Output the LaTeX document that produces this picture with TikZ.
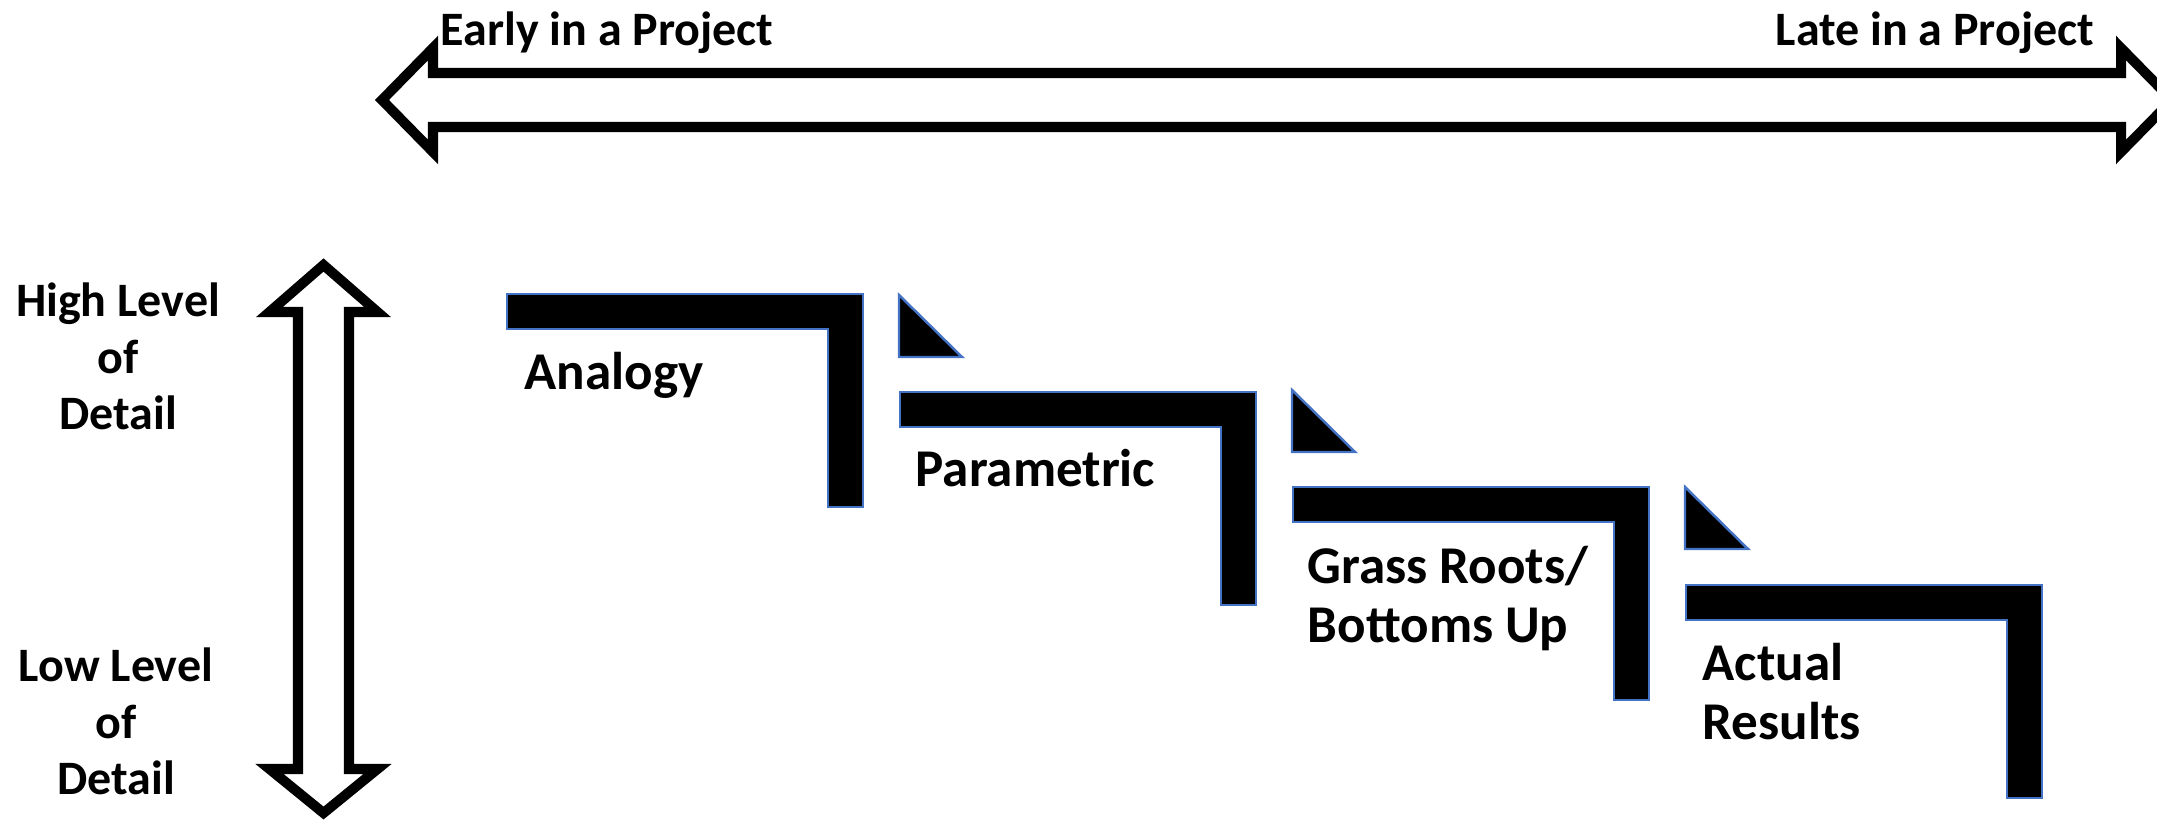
\documentclass[tikz,border=0pt]{standalone}
\usepackage{fontspec}
\setmainfont{Carlito}
\definecolor{stepedge}{HTML}{4472C4}
\begin{document}
\begin{tikzpicture}[x=0.01cm,y=-0.01cm,
  hollow/.style={draw=black, fill=white, line width=2.85pt, line join=miter},
  stepshape/.style={fill=black, draw=stepedge, line width=0.7pt, line join=miter},
  lbl/.style={font=\fontsize{13.65}{16.1}\selectfont\bfseries, inner sep=0pt},
  sidelbl/.style={lbl, align=center, anchor=base},
  steplbl/.style={inner sep=0pt, font=\fontsize{15.1}{16.8}\selectfont\bfseries,
    align=left, anchor=base west}]
\useasboundingbox (0,0) rectangle (2157,822);
\clip (0,0) rectangle (2157,822);

% timeline double arrow
\draw[hollow] (382,100) -- (433,48) -- (433,73) -- (2121,73) -- (2121,48)
  -- (2172,100) -- (2121,152) -- (2121,127) -- (433,127) -- (433,152) -- cycle;
\node[lbl, anchor=base west] (early) at (440,46) {Early in a Project};
\node[lbl, anchor=base east] (late) at (2095,46) {Late in a Project};

% level-of-detail double arrow (last-line baselines)
\draw[hollow] (323.5,265) -- (377.5,312) -- (349,312) -- (349,769) -- (377.5,769)
  -- (323.5,813) -- (269.5,769) -- (298,769) -- (298,312) -- (269.5,312) -- cycle;
\node[sidelbl] (high) at (118,430) {High Level\\of\\Detail};
\node[sidelbl] (low) at (116,795) {Low Level\\of\\Detail};

% staircase of estimating methods
\foreach \x/\y in {507/294, 900/392, 1293/487, 1686/585}
  \draw[stepshape] (\x,\y) -- ++(356,0) -- ++(0,213) -- ++(-35,0)
    -- ++(0,-178) -- ++(-321,0) -- cycle;
\foreach \x/\y in {899/295, 1292/390, 1685/487}
  \draw[stepshape] (\x,\y) -- ++(0,62) -- ++(63,0) -- cycle;

\node[steplbl] (analogy) at (524,390) {Analogy};
\node[steplbl] (parametric) at (915,487) {Parametric};
\node[steplbl] (grass) at (1307,643) {Grass Roots/\\Bottoms Up};
\node[steplbl] (actual) at (1702,740) {Actual\\Results};
\end{tikzpicture}
\end{document}
